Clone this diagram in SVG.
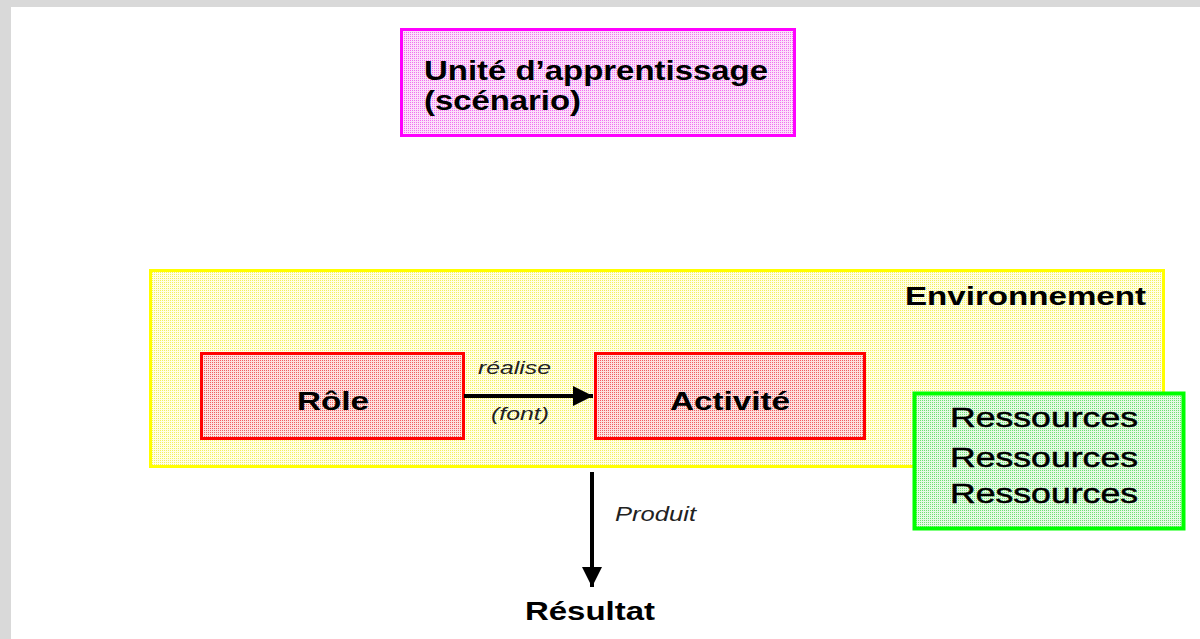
<svg xmlns="http://www.w3.org/2000/svg" width="1200" height="639" viewBox="0 0 1200 639">
<defs>
<style>
.b{font-family:"Liberation Sans",Arial,sans-serif;font-weight:bold;fill:#000}
.r{font-family:"Liberation Sans",Arial,sans-serif;fill:#000;stroke:#000;stroke-width:0.5}
.i{font-family:"Liberation Sans",Arial,sans-serif;font-style:italic;fill:#222}
.conn{stroke:#000;stroke-width:4;fill:none}
</style>
<pattern id="pPink" width="2" height="2" patternUnits="userSpaceOnUse"><rect width="2" height="2" fill="#fbe0fa"/><rect width="1" height="1" fill="#f070ee"/></pattern>
<pattern id="pYel" width="2" height="2" patternUnits="userSpaceOnUse"><rect width="2" height="2" fill="#ffffe6"/><rect width="1" height="1" fill="#f4f060"/></pattern>
<pattern id="pRed" width="2" height="2" patternUnits="userSpaceOnUse"><rect width="2" height="2" fill="#fce0e0"/><rect width="1" height="1" fill="#f06060"/></pattern>
<pattern id="pGrn" width="2" height="2" patternUnits="userSpaceOnUse"><rect width="2" height="2" fill="#e4fae4"/><rect width="1" height="1" fill="#70e070"/></pattern>
<marker id="ah" viewBox="0 0 10 10" refX="10" refY="5" markerWidth="8" markerHeight="5" markerUnits="strokeWidth" orient="auto"><path d="M0,0 L10,5 L0,10 z" fill="#000"/></marker>
</defs>
<rect width="1200" height="639" fill="#fff"/>
<rect x="0" y="0" width="1200" height="7" fill="#d9d9d9"/>
<rect x="0" y="0" width="11" height="639" fill="#d9d9d9"/>

<g id="unite">
<rect x="401.5" y="29.5" width="393" height="106" fill="url(#pPink)" stroke="#ff00ff" stroke-width="3"/>
<text class="b" x="424" y="80" font-size="28" textLength="344" lengthAdjust="spacingAndGlyphs">Unité d’apprentissage</text>
<text class="b" x="424" y="110" font-size="28" textLength="157" lengthAdjust="spacingAndGlyphs">(scénario)</text>
</g>

<g id="environnement">
<rect x="150.5" y="270.5" width="1013" height="196" fill="url(#pYel)" stroke="#ffff00" stroke-width="3"/>
<text class="b" x="905" y="305" font-size="26" textLength="241" lengthAdjust="spacingAndGlyphs">Environnement</text>
</g>

<g id="role">
<rect x="201.5" y="353.5" width="262" height="85" fill="url(#pRed)" stroke="#ff0000" stroke-width="3"/>
<text class="b" x="297" y="410" font-size="26" textLength="72" lengthAdjust="spacingAndGlyphs">Rôle</text>
</g>

<g id="activite">
<rect x="595.5" y="353.5" width="269" height="85" fill="url(#pRed)" stroke="#ff0000" stroke-width="3"/>
<text class="b" x="670" y="410" font-size="26" textLength="120" lengthAdjust="spacingAndGlyphs">Activité</text>
</g>

<g id="ressources">
<rect x="914.5" y="393.5" width="269" height="135" fill="url(#pGrn)" stroke="#00ff00" stroke-width="4"/>
<text class="r" x="950" y="427" font-size="27" textLength="188" lengthAdjust="spacingAndGlyphs">Ressources</text>
<text class="r" x="950" y="467" font-size="27" textLength="188" lengthAdjust="spacingAndGlyphs">Ressources</text>
<text class="r" x="950" y="503" font-size="27" textLength="188" lengthAdjust="spacingAndGlyphs">Ressources</text>
</g>

<g id="resultat">
<text class="b" x="525" y="620" font-size="26" textLength="130" lengthAdjust="spacingAndGlyphs">Résultat</text>
</g>

<g id="connectors">
<line class="conn" x1="464" y1="396" x2="593" y2="396" marker-end="url(#ah)"/>
<text class="i" x="478" y="374" font-size="19" textLength="73" lengthAdjust="spacingAndGlyphs">réalise</text>
<text class="i" x="491" y="420" font-size="19" textLength="58" lengthAdjust="spacingAndGlyphs">(font)</text>
<line class="conn" x1="592" y1="472" x2="592" y2="587" marker-end="url(#ah)"/>
<text class="i" x="615" y="521" font-size="20" textLength="81" lengthAdjust="spacingAndGlyphs">Produit</text>
</g>
</svg>
